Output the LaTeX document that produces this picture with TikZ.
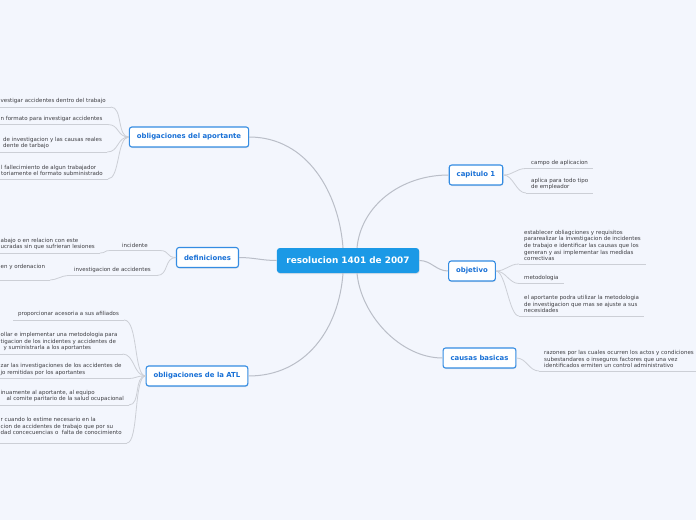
\documentclass[tikz,border=0pt]{standalone}
\usepackage{fontspec}
\setmainfont{DejaVu Sans}
\usetikzlibrary{calc,shadows}
\definecolor{paperTint}{RGB}{243,246,253}
\definecolor{hubBlue}{RGB}{27,153,230}
\definecolor{topicEdge}{RGB}{52,140,226}
\definecolor{topicInk}{RGB}{24,112,214}
\definecolor{leafInk}{RGB}{62,62,66}
\definecolor{limbGray}{RGB}{186,190,200}
\definecolor{twigGray}{RGB}{204,207,214}
\tikzset{
  hubbox/.style={rounded corners=3pt,fill=hubBlue,text=white,minimum height=25pt,inner xsep=9.5pt,
    font=\bfseries\fontsize{8.9}{10}\selectfont,drop shadow={opacity=0.18,shadow xshift=0.5pt,shadow yshift=-1pt}},
  topicbox/.style={rounded corners=2.5pt,draw=topicEdge,fill=white,line width=1.1pt,text=topicInk,
    minimum height=20pt,inner xsep=7.5pt,font=\bfseries\fontsize{6.9}{8}\selectfont,
    drop shadow={opacity=0.18,shadow xshift=0.5pt,shadow yshift=-1pt}},
  leaftext/.style={align=left,text=leafInk,inner xsep=5pt,inner ysep=2.8pt,font=\fontsize{5.5}{6.7}\selectfont},
  limb/.style={limbGray,line width=1pt},
  twig/.style={twigGray,line width=0.8pt}
}
\begin{document}
\begin{tikzpicture}[x=1pt,y=-1pt]
\useasboundingbox (0,0) rectangle (696,520);
\fill[paperTint] (0,0) rectangle (696,520);
\clip (0,0) rectangle (696,520);
\coordinate (margin) at (0,0);

\node[hubbox] (hub) at (348,260.5) {resolucion 1401 de 2007};
\node[topicbox] (apo) at (189,137) {obligaciones del aportante};
\node[topicbox] (dfn) at (207.5,257.5) {definiciones};
\node[topicbox] (atl) at (197,376) {obligaciones de la ATL};
\node[topicbox] (cap) at (476,175) {capitulo 1};
\node[topicbox] (obj) at (472,271) {objetivo};
\node[topicbox] (cau) at (479.5,358) {causas basicas};

\draw[limb] ([xshift=-5pt]hub.north) .. controls +(-4,-55) and +(58,0) .. (apo.east);
\draw[limb] ([xshift=9pt]hub.north) .. controls +(4,-42) and +(-48,0) .. (cap.west);
\draw[limb] (hub.west) .. controls +(-15,0) and +(15,0) .. (dfn.east);
\draw[limb] (hub.east) .. controls +(12,0) and +(-12,0) .. (obj.west);
\draw[limb] ([xshift=-5pt]hub.south) .. controls +(-4,55) and +(58,0) .. (atl.east);
\draw[limb] ([xshift=9pt]hub.south) .. controls +(4,42) and +(-42,0) .. (cau.west);

\foreach \lname/\lpar/\lx/\ly/\ltext in {
  cap-a/cap/526/168.5/{campo de aplicacion},
  cap-b/cap/526/193/{aplica para todo tipo\\de empleador},
  obj-a/obj/519/264/{establecer obliagciones y requisitos\\pararealizar la investigacion de incidentes\\de trabajo e identificar las causas que los\\generan y asi implementar las medidas\\correctivas},
  obj-b/obj/519/283.5/{metodologia},
  obj-c/obj/519/316/{el aportante podra utilizar la metodologia\\de investigacion que mas se ajuste a sus\\necesidades},
  cau-a/cau/539/371/{razones por las cuales ocurren los actos y condiciones\\subestandares o inseguros factores que una vez\\identificados ermiten un control administrativo}}{
  \node[leaftext,anchor=south west] (\lname) at (\lx,\ly) {\ltext};
  \draw[twig] (\lname.south west) -- (\lname.south east);
  \draw[twig] (\lpar.east) .. controls +(10,0) and +(-10,0) .. (\lname.south west);
}

\foreach \lname/\lpar/\lx/\ly/\lsep/\ltext in {
  apo-a/apo/-4.5/107/2.8/{vestigar accidentes dentro del trabajo},
  apo-b/apo/-4.5/124.5/2.8/{n formato para investigar accidentes},
  apo-c/apo/-2/152/2.8/{de investigacion y las causas reales\\dente de tarbajo},
  apo-d/apo/-4/179/2.8/{l fallecimiento de algun trabajador\\toriamente el formato subministrado},
  atl-b/atl/-4.5/354/2.8/{ollar e implementar una metodologia para\\tigacion de los incidentes y accidentes de\\\hspace*{3pt}y suministrarla a los aportantes},
  atl-c/atl/-4.5/378.5/2.8/{zar las investigaciones de los accidentes de\\jo remitidas por los aportantes},
  atl-d/atl/-4.5/405/2.8/{inuamente al aportante, al equipo\\\hspace*{6pt}al comite paritario de la salud ocupacional},
  atl-e/atl/-4.5/443/8/{r cuando lo estime necesario en la\\cion de accidentes de trabajo que por su\\dad concecuencias o\ \ falta de conocimiento}}{
  \node[leaftext,anchor=south west,inner ysep=\lsep pt] (\lname) at (\lx,\ly) {\ltext};
  \draw[twig] (\lname.south east) -- (\lname.south east -| margin);
  \draw[twig] (\lname.south east) .. controls +(12,0) and +(-12,0) .. (\lpar.west);
}

\node[leaftext,anchor=south west] (atl-a) at (13,320) {proporcionar acesoria a sus afiliados};
\draw[twig] (atl-a.south west) -- (atl-a.south east);
\draw[twig] (atl-a.south east) .. controls +(14,0) and +(-12,0) .. (atl.west);

\node[leaftext,anchor=south west,inner xsep=12pt] (inc) at (110,250.5) {incidente};
\draw[twig] (inc.south west) -- (inc.south east);
\draw[twig] (inc.south east) .. controls +(10,0) and +(-10,0) .. (dfn.west);
\node[leaftext,anchor=south west] (inc-a) at (-4.5,253) {abajo o en relacion con este\\ucradas sin que sufrieran lesiones};
\draw[twig] (inc-a.south east) -- (inc-a.south east -| margin);
\draw[twig] (inc-a.south east) .. controls +(6,0) and +(-6,0) .. (inc.south west);

\node[leaftext,anchor=south west,inner xsep=6pt] (inv) at (68,275.5) {investigacion de accidentes};
\draw[twig] (inv.south west) -- (inv.south east);
\draw[twig] (inv.south east) .. controls +(12,0) and +(-12,0) .. (dfn.west);
\node[leaftext,anchor=south west,inner ysep=10.5pt] (inv-a) at (-4.5,280) {en y ordenacion};
\draw[twig] (inv-a.south east) -- (inv-a.south east -| margin);
\draw[twig] (inv-a.south east) .. controls +(6,0) and +(-6,0) .. (inv.south west);
\end{tikzpicture}
\end{document}
